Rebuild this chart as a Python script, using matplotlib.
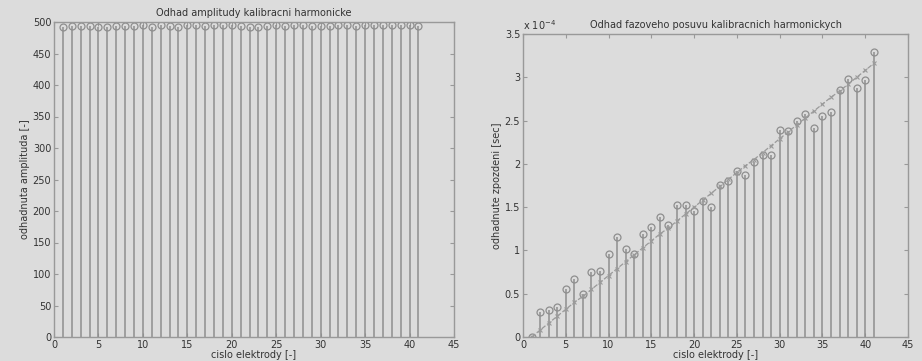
import numpy as np
import matplotlib
matplotlib.use("Agg")
import matplotlib.pyplot as plt

electrodes = list(range(1, 42))
amplitude = [492.5, 493.5, 494, 494, 492.5, 491.5, 494, 494, 494, 494.5,
             492.5, 495, 493.5, 492.5, 494.5, 495, 494, 494.5, 495, 495,
             494, 492.5, 492.5, 494, 494.5, 494, 495, 495, 494, 493,
             494, 495, 494.5, 494, 494.5, 495, 494.5, 495, 494.5, 495, 493.5]
delay = [0.0, 0.285, 0.31, 0.35, 0.56, 0.67, 0.50, 0.755, 0.76, 0.955,
         1.155, 1.02, 0.955, 1.19, 1.27, 1.39, 1.29, 1.52, 1.53, 1.46,
         1.575, 1.505, 1.755, 1.80, 1.92, 1.87, 2.025, 2.10, 2.10, 2.39,
         2.38, 2.50, 2.575, 2.41, 2.55, 2.60, 2.85, 2.98, 2.88, 2.97, 3.29]
delay_fit = [0.0, 0.08, 0.16, 0.24, 0.32, 0.40, 0.47, 0.55, 0.63, 0.71,
             0.79, 0.87, 0.95, 1.03, 1.11, 1.19, 1.26, 1.34, 1.42, 1.50,
             1.58, 1.66, 1.74, 1.82, 1.90, 1.98, 2.05, 2.13, 2.21, 2.29,
             2.37, 2.45, 2.53, 2.61, 2.69, 2.77, 2.84, 2.92, 3.00, 3.08, 3.16]

titles = ["Odhad amplitudy kalibracni harmonicke",
          "Odhad fazoveho posuvu kalibracnich harmonickych"]
ylabels = ["odhadnuta amplituda [-]", "odhadnute zpozdeni [sec]"]
xlabel = "cislo elektrody [-]"

bg = "#dcdcdc"
stem_c = "#8e8e8e"
txt_c = "#333333"
plt.rcParams['font.family'] = ['DejaVu Sans']
plt.rcParams['font.size'] = 7

fig = plt.figure(figsize=(9.22, 3.61), dpi=100, facecolor=bg)
axL = fig.add_axes([54/922, 24/361, 400/922, 315/361], facecolor=bg)
axR = fig.add_axes([523/922, 24/361, 385/922, 303/361], facecolor=bg)

def style(ax):
    for s in ax.spines.values():
        s.set_color("#999999")
        s.set_linewidth(1.0)
    ax.tick_params(direction='in', top=True, right=True, length=3,
                   color="#999999", labelcolor=txt_c, labelsize=7, pad=2)

# Left: amplitude
ml, sl, bl = axL.stem(electrodes, amplitude, basefmt=" ")
plt.setp(sl, color=stem_c, linewidth=1.1)
plt.setp(ml, marker='o', markersize=5, markerfacecolor='none',
         markeredgecolor=stem_c, markeredgewidth=0.9)
axL.set_xlim(0, 45)
axL.set_ylim(0, 500)
axL.set_xticks(range(0, 46, 5))
axL.set_yticks(range(0, 501, 50))
axL.set_title(titles[0], color=txt_c, fontsize=7, pad=4)
axL.set_ylabel(ylabels[0], color=txt_c, fontsize=7, labelpad=2)
axL.set_xlabel(xlabel, color=txt_c, fontsize=7, labelpad=0)
style(axL)

# Right: delay
mr, sr, br = axR.stem(electrodes, delay, basefmt=" ")
plt.setp(sr, color=stem_c, linewidth=1.1)
plt.setp(mr, marker='o', markersize=5, markerfacecolor='none',
         markeredgecolor=stem_c, markeredgewidth=0.9)
axR.plot(electrodes, delay_fit, linestyle='--', color="#9a9a9a",
         linewidth=0.9, marker='x', markersize=3, markeredgewidth=0.8)
axR.set_xlim(0, 45)
axR.set_ylim(0, 3.5)
axR.set_xticks(range(0, 46, 5))
axR.set_yticks([0, 0.5, 1, 1.5, 2, 2.5, 3, 3.5])
axR.set_yticklabels(["0", "0.5", "1", "1.5", "2", "2.5", "3", "3.5"])
axR.set_title(titles[1], color=txt_c, fontsize=7, pad=4)
axR.set_ylabel(ylabels[1], color=txt_c, fontsize=7, labelpad=2)
axR.set_xlabel(xlabel, color=txt_c, fontsize=7, labelpad=0)
axR.text(0.0, 1.005, r"x 10$^{-4}$", transform=axR.transAxes, ha='left',
         va='bottom', color=txt_c, fontsize=7)
style(axR)

fig.savefig("out.png", dpi=100, facecolor=bg)
